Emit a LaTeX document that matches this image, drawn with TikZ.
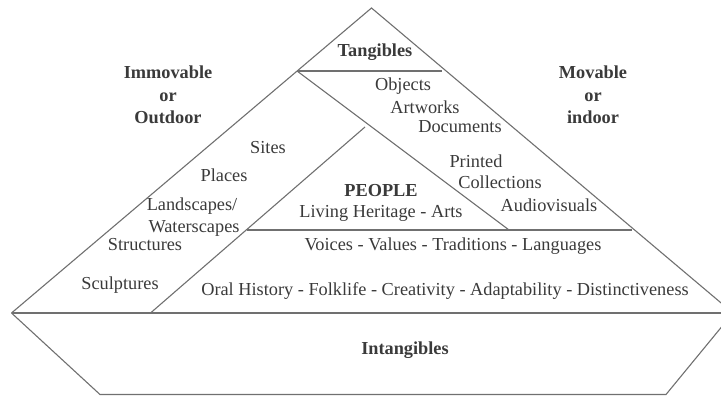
\documentclass[tikz,border=0pt]{standalone}
\usepackage{fontspec}
\setmainfont{Liberation Serif}
\definecolor{linec}{RGB}{112,112,112}
\definecolor{textc}{RGB}{58,58,58}
\begin{document}
\begin{tikzpicture}[x=1pt,y=-1pt,
  edge/.style={draw=linec,line width=1.1pt,line join=miter},
  lbl/.style={text=textc,inner sep=0pt,text height=12.5pt,text depth=4pt,
    font=\fontsize{18.3}{22.5}\selectfont},
  blbl/.style={lbl,font=\fontsize{18.3}{22.5}\selectfont\bfseries},
  blockl/.style={blbl,align=center,text height=,text depth=}]
\useasboundingbox (0,0) rectangle (721,396);
% frame coordinates
\coordinate (apex) at (371.5,8);
\coordinate (L) at (11.5,313);
\coordinate (R) at (733,313);
\coordinate (BL) at (100,394.5);
\coordinate (BR) at (666,394.5);
\coordinate (T1) at (297,71);
\coordinate (T2) at (442,71);
\coordinate (D) at (509,230);
\coordinate (IA) at (365,127);
\coordinate (IB) at (150.5,313);
\coordinate (H1) at (246.5,230);
\coordinate (H2) at (632,230);
% shapes
\draw[edge] (L) -- (apex) -- (R);
\draw[edge] (L) -- (R);
\draw[edge] (L) -- (BL) -- (BR) -- (R);
\draw[edge] (T1) -- (T2);
\draw[edge] (T1) -- (D);
\draw[edge] (IA) -- (IB);
\draw[edge] (H1) -- (H2);
% labels
\node[blbl] (tang) at (375,52) {Tangibles};
\node[blockl] (immov) at (168,95) {Immovable\\or\\Outdoor};
\node[blockl] (mov) at (593,95) {Movable\\or\\indoor};
\node[lbl] (obj) at (403,86) {Objects};
\node[lbl] (art) at (425,109) {Artworks};
\node[lbl] (doc) at (460,128) {Documents};
\node[lbl] (sites) at (268,149) {Sites};
\node[lbl] (places) at (224,177) {Places};
\node[lbl] (land) at (192,206) {Landscapes/};
\node[lbl] (water) at (194,228) {Waterscapes};
\node[lbl] (struct) at (145,246) {Structures};
\node[lbl] (sculpt) at (120,285) {Sculptures};
\node[lbl] (print) at (476,163) {Printed};
\node[lbl] (coll) at (500,184) {Collections};
\node[lbl] (audio) at (549,207) {Audiovisuals};
\node[blbl] (people) at (381,192) {PEOPLE};
\node[lbl] (living) at (381,213) {Living Heritage - Arts};
\node[lbl] (voices) at (453,246) {Voices - Values - Traditions - Languages};
\node[lbl] (oral) at (445,291) {Oral History - Folklife - Creativity - Adaptability - Distinctiveness};
\node[blbl] (intang) at (405,350) {Intangibles};
\end{tikzpicture}
\end{document}
